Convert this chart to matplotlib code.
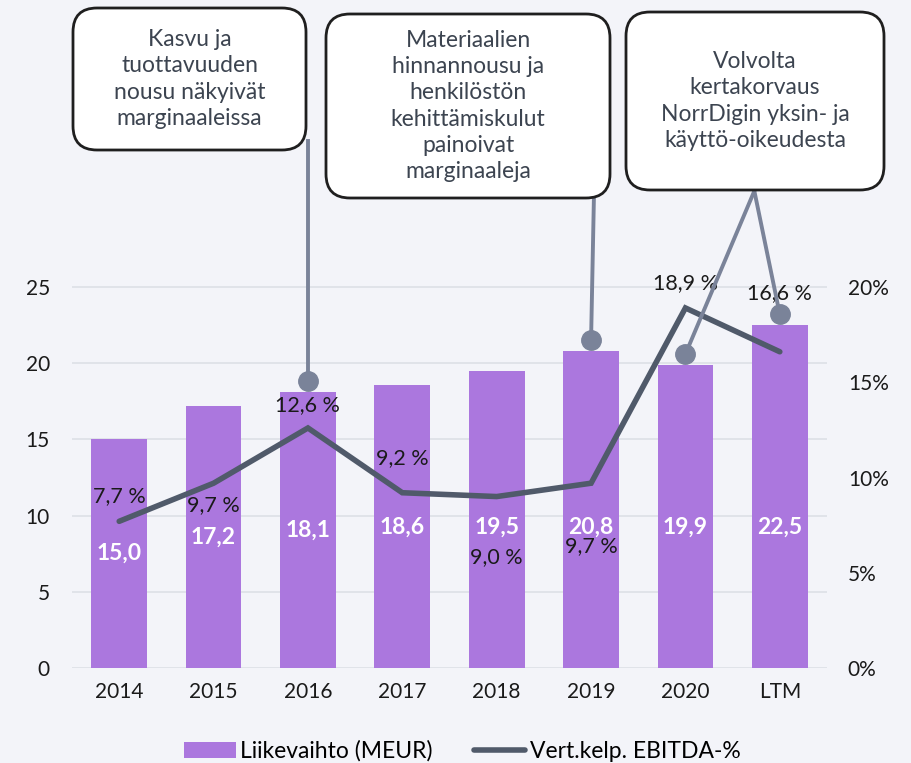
import numpy as np
import matplotlib.pyplot as plt
from matplotlib.patches import FancyBboxPatch
import matplotlib

matplotlib.rcParams['font.family'] = ['Lato', 'DejaVu Sans']

# data
years = ['2014', '2015', '2016', '2017', '2018', '2019', '2020', 'LTM']
revenue = [15.0, 17.2, 18.1, 18.6, 19.5, 20.8, 19.9, 22.5]
ebitda_pct = [7.7, 9.7, 12.6, 9.2, 9.0, 9.7, 18.9, 16.6]

notes = ["Kasvu ja\ntuottavuuden\nnousu näkyivät\nmarginaaleissa",
         "Materiaalien\nhinnannousu ja\nhenkilöstön\nkehittämiskulut\npainoivat\nmarginaaleja",
         "Volvolta\nkertakorvaus\nNorrDigin yksin- ja\nkäyttö-oikeudesta"]
note_targets = [[2], [5], [6, 7]]

# label offsets from the line points (in % units)
pct_offsets = [1.3, -1.15, 1.2, 1.8, -3.2, -3.3, 1.3, 3.1]

BG = '#f3f4f9'
BAR = '#ab77de'
LINE = '#505a6a'
CALL = '#7a8399'
TXT = '#1a1a1a'

W, H = 912, 763
fig = plt.figure(figsize=(W / 100, H / 100), dpi=100, facecolor=BG)
ax = fig.add_axes([72 / W, 95 / H, 755 / W, 668 / H])
ax.set_facecolor(BG)
top = 668 / 15.24
ax.set_ylim(0, top)
ax.set_xlim(-0.5, 7.5)
x = np.arange(len(years))

ax.set_yticks([0, 5, 10, 15, 20, 25])
ax.grid(axis='y', color='#dde0e6', linewidth=1.2, zorder=0)
ax.set_axisbelow(True)
ax.bar(x, revenue, width=0.59, color=BAR, zorder=2, label='Liikevaihto (MEUR)')
for xi, v in zip(x, revenue):
    ax.text(xi, min(v / 2, 9.25), f'{v:.1f}'.replace('.', ','), ha='center', va='center',
            color='white', fontsize=16.5, fontweight='bold', zorder=3)

ax.set_xticks(x)
ax.set_xticklabels(years)
ax.tick_params(axis='both', length=0, labelsize=15, labelcolor=TXT)
ax.tick_params(axis='x', pad=10)
ax.tick_params(axis='y', pad=16)
for s in ax.spines.values():
    s.set_visible(False)

ax2 = ax.twinx()
ax2.set_ylim(0, top * 0.8)
ax2.set_yticks([0, 5, 10, 15, 20])
ax2.set_yticklabels([f'{t}%' for t in [0, 5, 10, 15, 20]])
ax2.tick_params(axis='y', length=0, labelsize=15, labelcolor=TXT, pad=15)
for s in ax2.spines.values():
    s.set_visible(False)
ax2.plot(x, ebitda_pct, color=LINE, linewidth=4, solid_capstyle='round',
         solid_joinstyle='miter', zorder=4, label='Vert.kelp. EBITDA-%')
for xi, p, off in zip(x, ebitda_pct, pct_offsets):
    ax2.text(xi, p + off, f'{p:.1f} %'.replace('.', ','), ha='center', va='center',
             fontsize=15.5, color=TXT, zorder=5)

# callouts (box positions in inches, pointer ends on the bars)
boxes = [(0.73, 7.63 - 1.50, 2.33, 1.42),
         (3.26, 7.63 - 1.98, 2.84, 1.84),
         (6.26, 7.63 - 1.90, 2.58, 1.78)]
anchors = [(2.0, 34.6), (5.03, 30.8), (6.73, 31.3)]
for (bx, by, bw, bh), note, tg, anc in zip(boxes, notes, note_targets, anchors):
    patch = FancyBboxPatch((bx, by), bw, bh, boxstyle='round,pad=0,rounding_size=0.24',
                           transform=fig.dpi_scale_trans, facecolor='white',
                           edgecolor='#1f1f1f', linewidth=2, clip_on=False, zorder=10)
    ax2.add_artist(patch)
    fig.text((bx + bw / 2) / (W / 100), (by + bh / 2) / (H / 100), note, ha='center',
             va='center', fontsize=16.5, color='#3c4450', linespacing=1.3, zorder=11)
    for t in tg:
        ty = revenue[t] + 0.7
        ax2.plot([anc[0], t], [anc[1], ty], color=CALL, linewidth=2.8,
                 transform=ax.transData, clip_on=False, zorder=8)
        ax2.plot([t], [ty], 'o', color=CALL, markersize=14,
                 transform=ax.transData, clip_on=False, zorder=9)

h1, l1 = ax.get_legend_handles_labels()
h2, l2 = ax2.get_legend_handles_labels()
fig.legend(h1 + h2, l1 + l2, loc='center', bbox_to_anchor=(0.507, 0.016), ncol=2,
           frameon=False, fontsize=16.5, handlelength=2.25, handletextpad=0.2,
           columnspacing=1.8)

fig.savefig('out.png', dpi=100, facecolor=BG)
